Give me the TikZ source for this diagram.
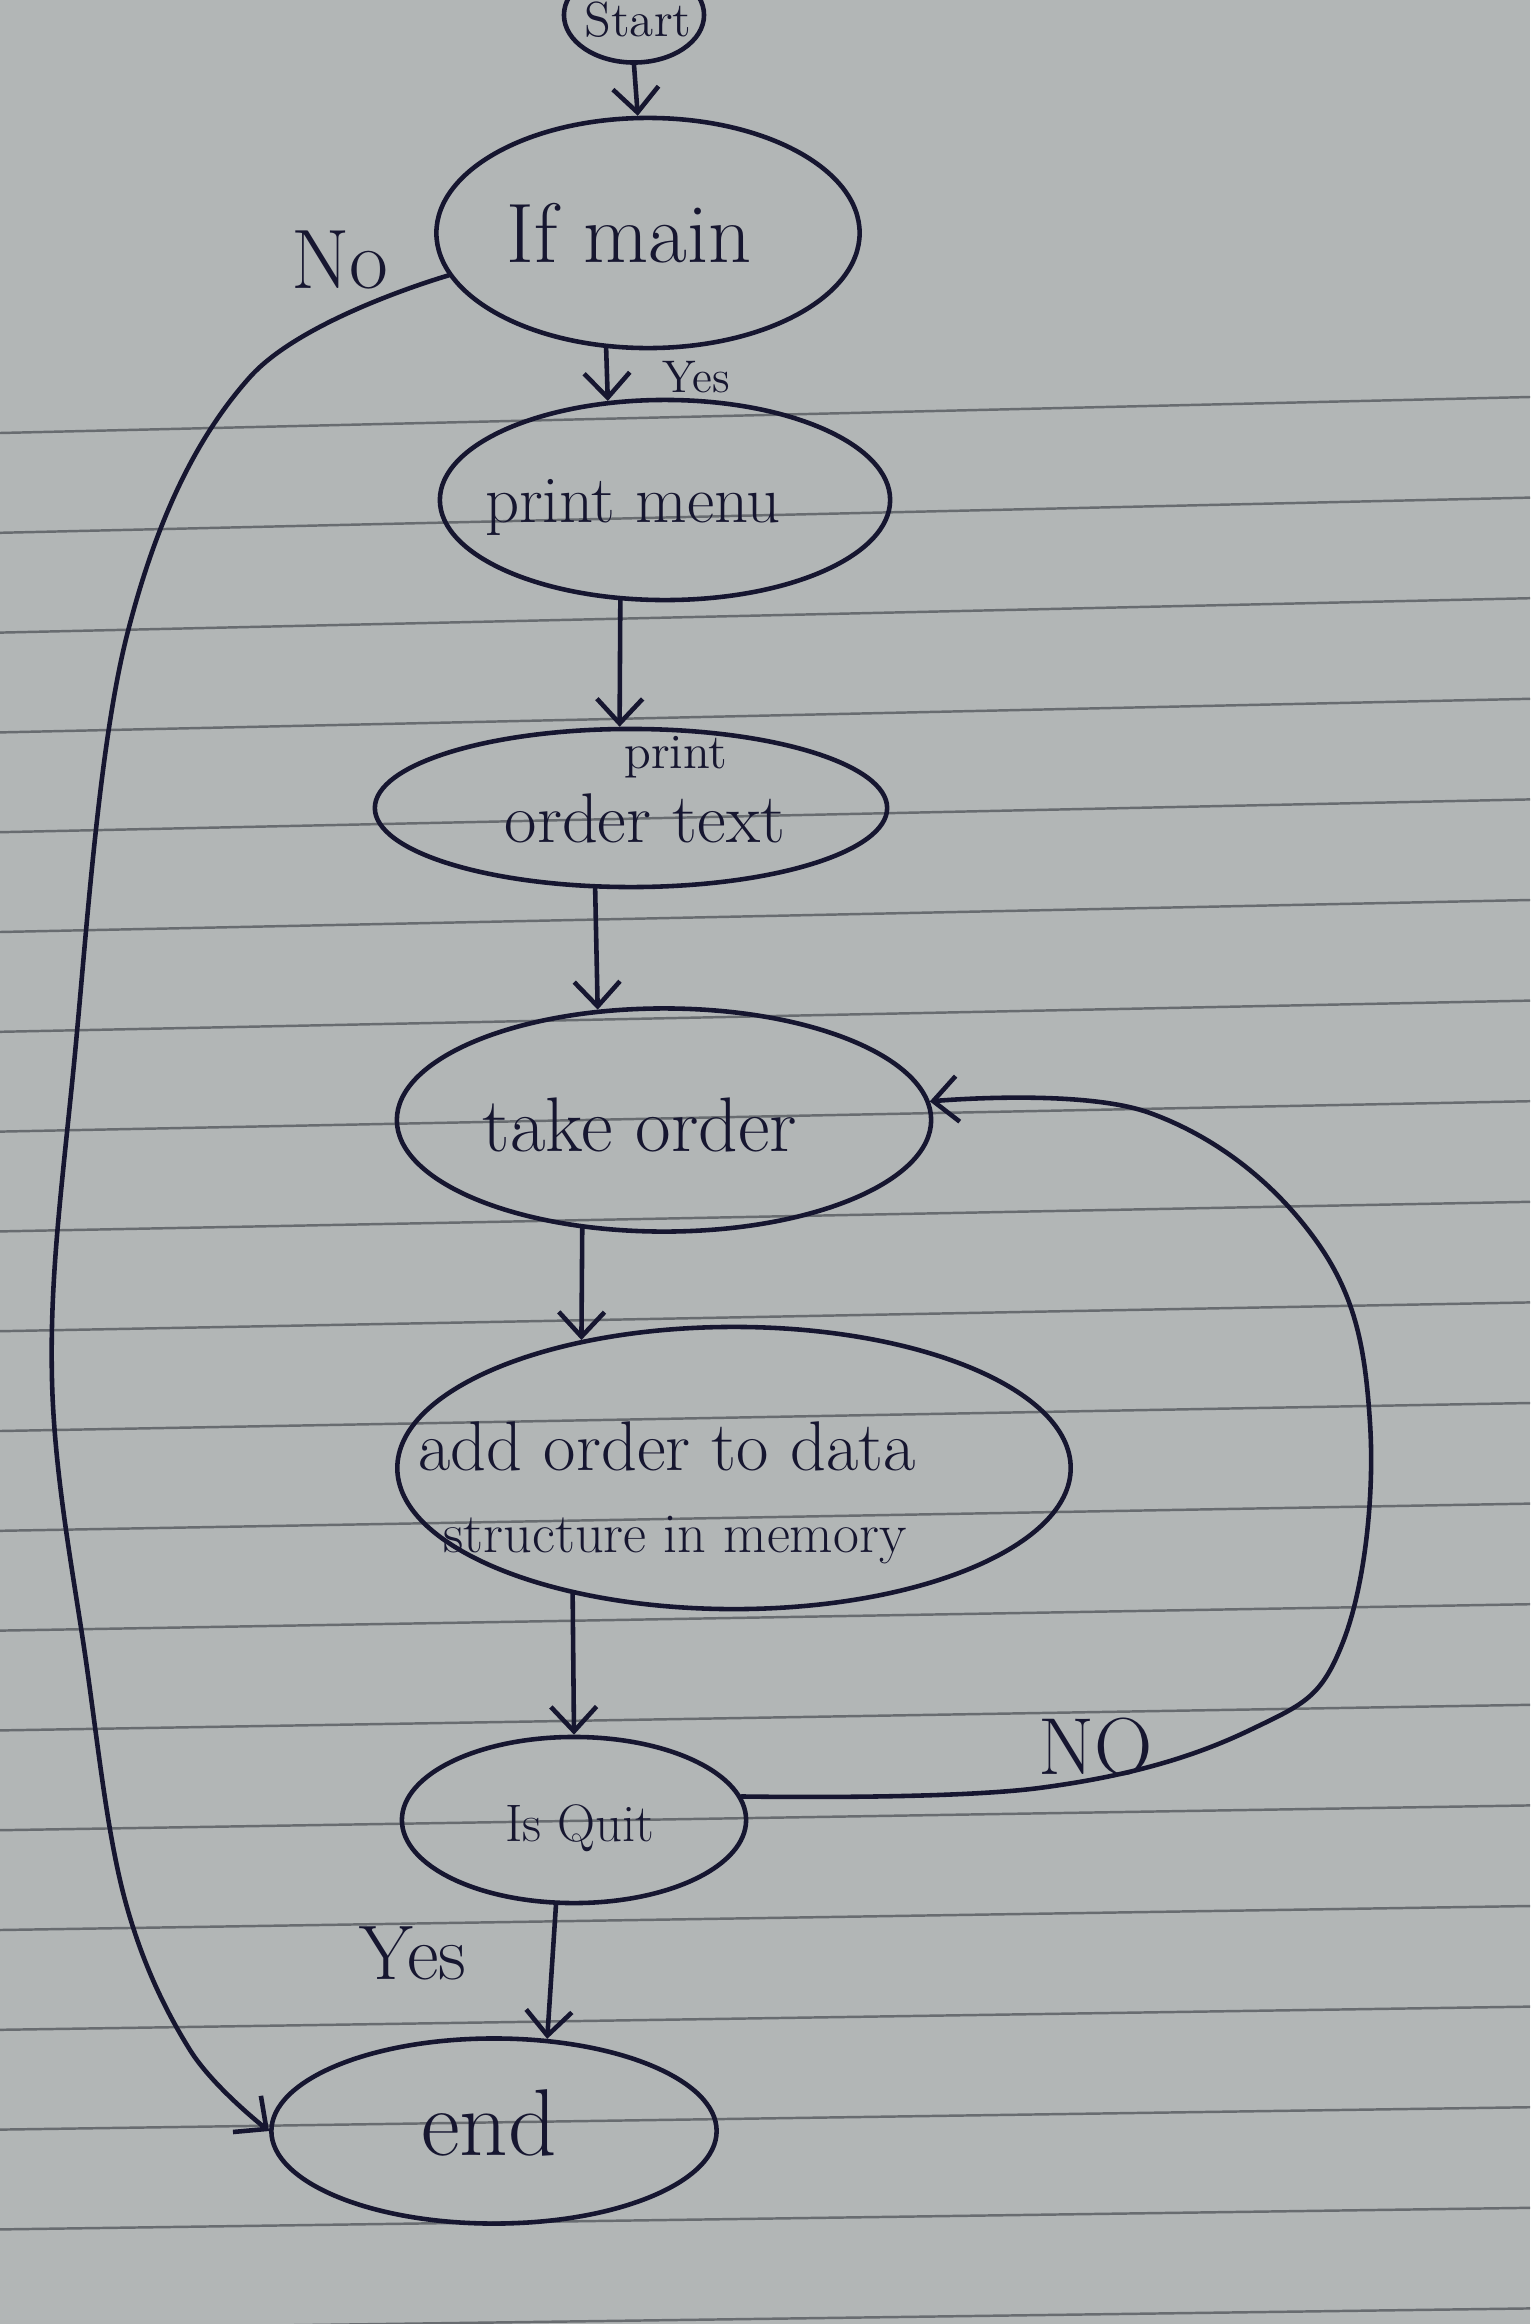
\documentclass[tikz,border=0pt]{standalone}
\usetikzlibrary{shapes.geometric,arrows.meta}
\definecolor{paper}{RGB}{178,182,182}
\definecolor{rulecol}{RGB}{104,108,112}
\definecolor{ink}{RGB}{22,22,48}
\begin{document}
\begin{tikzpicture}[x=0.01cm,y=-0.01cm,
  bub/.style 2 args={ellipse,draw=ink,line width=1.3pt,minimum width=#1,minimum height=#2,inner sep=0pt},
  txt/.style={text=ink,inner sep=0pt,font=\fontsize{#1pt}{#1pt}\selectfont},
  conn/.style={draw=ink,line width=1.3pt,line cap=round,-{Straight Barb[length=7pt,width=13pt,line width=1.3pt]}},
  ruleline/.style={draw=rulecol,line width=0.7pt}
]
\useasboundingbox (0,0) rectangle (1530,2324);
\begin{scope}
\clip (0,0) rectangle (1530,2324);
\fill[paper] (0,0) rectangle (1530,2324);
\foreach \k in {0,...,19} \draw[ruleline] (0,433+99.8*\k) -- (1530,397+100.6*\k);

% nodes
\node[bub={1.40cm}{0.95cm}] (start) at (634,15) {};
\node[txt=14] (starttext) at (638,20) {Start};
\node[bub={4.23cm}{2.30cm}] (ifmain) at (648,233) {};
\node[txt=24] (ifmaintext) at (629,233) {If main};
\node[bub={4.50cm}{2.00cm}] (pm) at (665,500) {};
\node[txt=19] (pmtext) at (633,507) {print menu};
\node[bub={5.12cm}{1.58cm}] (pot) at (631,808) {};
\node[txt=14] (pottext1) at (676,757) {print};
\node[txt=20] (pottext2) at (645,818) {order text};
\node[bub={5.34cm}{2.23cm}] (take) at (664,1120) {};
\node[txt=22] (taketext) at (640,1125) {take order};
\node[bub={6.73cm}{2.82cm}] (add) at (734,1468) {};
\node[txt=20] (addtext1) at (667,1446) {add order to data};
\node[txt=16] (addtext2) at (675,1540) {structure in memory};
\node[bub={3.44cm}{1.66cm}] (isquit) at (574,1820) {};
\node[txt=15] (isquittext) at (580,1828) {Is Quit};
\node[bub={4.45cm}{1.85cm}] (stop) at (494,2131) {};
\node[txt=27] (stoptext) at (489,2123) {end};

% labels
\node[txt=24] (nolabel) at (340,260) {No};
\node[txt=13] (yeslabel) at (696,377) {Yes};
\node[txt=23] (nolabel2) at (1096,1747) {NO};
\node[txt=22] (yeslabel2) at (413,1953) {Yes};

% connectors
\draw[conn] (start.south) -- (ifmain.95);
\draw[conn] (ifmain.250) -- (pm.120);
\draw[conn] (pm.246) -- (pot.98);
\draw[conn] (pot.246) -- (take.121.5);
\draw[conn] (take.233) -- (add.140);
\draw[conn] (add.218) -- (isquit.north);
\draw[conn] (isquit.258) -- (stop.60.5);
\draw[conn] plot[smooth,tension=0.6] coordinates {(ifmain.192) (250,377) (127,635) (73,1074) (52,1380) (87,1668) (125,1900) (190,2050) (stop.west)};
\draw[conn] plot[smooth,tension=0.65] coordinates {(isquit.8) (1039,1788) (1250,1730) (1343,1642) (1370,1423) (1317,1242) (1150,1113) (take.4)};
\end{scope}
\end{tikzpicture}
\end{document}
